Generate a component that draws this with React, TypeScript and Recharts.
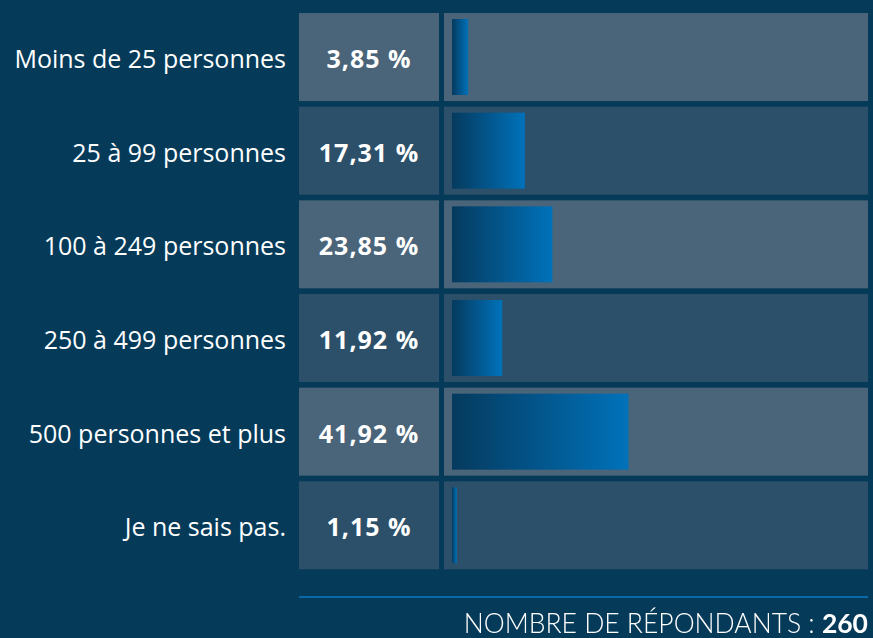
import React from "react";
import { BarChart, Bar, XAxis, YAxis, LabelList } from "recharts";

const categories = [
  "Moins de 25 personnes",
  "25 à 99 personnes",
  "100 à 249 personnes",
  "250 à 499 personnes",
  "500 personnes et plus",
  "Je ne sais pas.",
];
const percentages = [3.85, 17.31, 23.85, 11.92, 41.92, 1.15];
const valueLabels = ["3,85 %", "17,31 %", "23,85 %", "11,92 %", "41,92 %", "1,15 %"];
const respondents = 260;

const chartData = categories.map((name, i) => ({
  name,
  value: percentages[i],
  label: valueLabels[i],
}));

const BG = "#053a59";
const PANEL_LIGHT = "#4a6479";
const PANEL_DARK = "#2c5069";
const FONT = "'Open Sans', Lato, sans-serif";

const RowBackground = (props: any) => {
  const { x, y, height, index } = props;
  const fill = index % 2 === 0 ? PANEL_LIGHT : PANEL_DARK;
  return (
    <g>
      <rect x={x - 153} y={y} width={140} height={height} fill={fill} />
      <rect x={x - 8} y={y} width={424} height={height} fill={fill} />
    </g>
  );
};

const GradientBar = (props: any) => {
  const { x, y, width, height } = props;
  return <rect x={x} y={y + 6} width={Math.max(width, 0)} height={height - 12} fill="url(#barGradient)" />;
};

const CategoryTick = (props: any) => {
  const { y, payload } = props;
  return (
    <text x={286} y={y + 1} textAnchor="end" dominantBaseline="central" fill="#ffffff" fontSize={25} fontFamily={FONT}>
      {payload.value}
    </text>
  );
};

const ValueLabel = (props: any) => {
  const { x, y, height, value } = props;
  return (
    <text
      x={x - 83}
      y={y + height / 2 + 1}
      textAnchor="middle"
      dominantBaseline="central"
      fill="#ffffff"
      fontSize={25}
      fontWeight={700}
      letterSpacing={1}
      fontFamily={FONT}
    >
      {value}
    </text>
  );
};

export default function App() {
  return (
    <div style={{ position: "fixed", left: 0, top: 0, width: 873, height: 638, background: BG }}>
      <BarChart
        width={873}
        height={638}
        data={chartData}
        layout="vertical"
        margin={{ top: 10, right: 0, left: 0, bottom: 66 }}
        barSize={88}
      >
        <defs>
          <linearGradient id="barGradient" x1="0" y1="0" x2="1" y2="0">
            <stop offset="0%" stopColor="#053a5e" />
            <stop offset="100%" stopColor="#0072ba" />
          </linearGradient>
        </defs>
        <XAxis type="number" domain={[0, 100]} hide />
        <YAxis
          type="category"
          dataKey="name"
          width={452}
          axisLine={false}
          tickLine={false}
          tick={<CategoryTick />}
        />
        <Bar
          dataKey="value"
          isAnimationActive={false}
          background={<RowBackground />}
          shape={<GradientBar />}
        >
          <LabelList dataKey="label" content={<ValueLabel />} />
        </Bar>
      </BarChart>
      <div style={{ position: "absolute", left: 299, top: 596, width: 569, height: 2, background: "#0a6aa9" }} />
      <div
        style={{
          position: "absolute",
          right: 5,
          top: 607,
          color: "#ffffff",
          fontFamily: "Lato, sans-serif",
          fontSize: 26.5,
          lineHeight: "32px",
          whiteSpace: "nowrap",
        }}
      >
        <span style={{ fontWeight: 300 }}>NOMBRE DE RÉPONDANTS : </span>
        <span style={{ fontWeight: 700 }}>{respondents}</span>
      </div>
    </div>
  );
}
